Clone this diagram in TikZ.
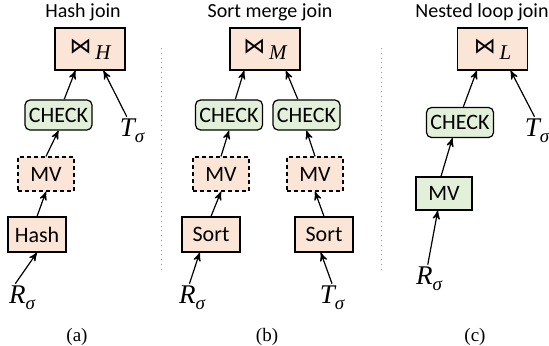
\documentclass[tikz,border=0pt]{standalone}
\usepackage{fontspec}
\setsansfont{Carlito}
\setmainfont{Liberation Serif}
\newfontfamily\symfont{DejaVu Sans}
\usetikzlibrary{arrows}
\definecolor{peach}{HTML}{FBE5D6}
\definecolor{mint}{HTML}{E2F0D9}
\newcommand{\joinsym}[1]{{\symfont\fontsize{11}{13}\selectfont ⋈}\,\raisebox{-0.55ex}{\rmfamily\itshape\fontsize{10.5}{12}\selectfont #1}}
\newcommand{\relsym}[1]{\rmfamily\itshape\fontsize{13.5}{15}\selectfont #1\raisebox{-0.45ex}{\fontsize{9.5}{11}\selectfont σ}}
\tikzset{
plan/.style={>=stealth',semithick},
op/.style={draw,semithick,fill=peach,font=\sffamily\fontsize{11}{13}\selectfont,inner sep=0pt},
joinop/.style={op,minimum width=35pt,minimum height=21pt},
check/.style={op,fill=mint,rounded corners=2.5pt,minimum width=33.5pt,minimum height=15pt},
mv/.style={op,dashed,dash pattern=on 2pt off 1.5pt,minimum width=28pt,minimum height=17pt},
mv solid/.style={op,fill=mint,minimum width=28pt,minimum height=16.5pt},
prep/.style={op,minimum width=29pt,minimum height=17.5pt},
rel/.style={inner sep=1pt},
title/.style={font=\sffamily\fontsize{10}{12}\selectfont},
caption/.style={font=\rmfamily\fontsize{9.5}{11}\selectfont},
sep/.style={draw=gray!80,dotted,thin}
}
\begin{document}
\begin{tikzpicture}[plan,x=0.5pt,y=-0.5pt]
\useasboundingbox (0,0) rectangle (549,346);

% (a) hash join
\node[title] (ta) at (83,12) {Hash join};
\node[joinop] (jh) at (90,49) {\joinsym{H}};
\node[check] (chka) at (58.5,115) {CHECK};
\node[mv] (mva) at (46,174) {MV};
\node[prep] (hash) at (37,234.5) {Hash};
\node[rel] (ra) at (22,298) {\relsym{R}};
\node[rel] (tsa) at (132,131) {\relsym{T}};
\node[caption] (ca) at (77,337) {(a)};

\path[->] (ra.115) edge (hash.south);
\path[->] (hash.north) edge (mva.south);
\path[->] (mva.north) edge (chka.south);
\path[->] (chka.70) edge (jh.236);
\path[->] (tsa.110) edge (jh.302);

% (b) sort merge join
\node[title] (tb) at (270,12) {Sort merge join};
\node[joinop] (jm) at (265,49) {\joinsym{M}};
\node[check] (chkl) at (229,115) {CHECK};
\node[check] (chkr) at (306.5,115) {CHECK};
\node[mv] (mvl) at (221,174) {MV};
\node[mv] (mvr) at (315,174) {MV};
\node[prep] (sortl) at (211,234.5) {Sort};
\node[prep] (sortr) at (324,234.5) {Sort};
\node[rel] (rb) at (192,298) {\relsym{R}};
\node[rel] (tsb) at (332,298) {\relsym{T}};
\node[caption] (cb) at (267,337) {(b)};

\path[->] (rb.100) edge (sortl.238);
\path[->] (sortl.north) edge (mvl.south);
\path[->] (mvl.north) edge (chkl.south);
\path[->] (chkl.68) edge (jm.226);
\path[->] (tsb.north) edge (sortr.260);
\path[->] (sortr.north) edge (mvr.south);
\path[->] (mvr.north) edge (chkr.south);
\path[->] (chkr.119) edge (jm.314);

% (c) nested loop join
\node[title] (tc) at (482,12) {Nested loop join};
\node[joinop] (jl) at (492.5,49) {\joinsym{L}};
\node[check] (chkc) at (460,122.5) {CHECK};
\node[mv solid] (mvc) at (444,193.5) {MV};
\node[rel] (rc) at (429,279) {\relsym{R}};
\node[rel] (tsc) at (537,131) {\relsym{T}};
\node[caption] (cc) at (475,337) {(c)};

\path[->] (rc.95) edge (mvc.250);
\path[->] (mvc.100) edge (chkc.244);
\path[->] (chkc.78) edge (jl.234);
\path[->] (tsc.100) edge (jl.310);

% separators
\coordinate (s1a) at (161,48);
\coordinate (s1b) at (161,273);
\coordinate (s2a) at (381,48);
\coordinate (s2b) at (381,273);
\draw[sep] (s1a) -- (s1b);
\draw[sep] (s2a) -- (s2b);

\end{tikzpicture}
\end{document}
